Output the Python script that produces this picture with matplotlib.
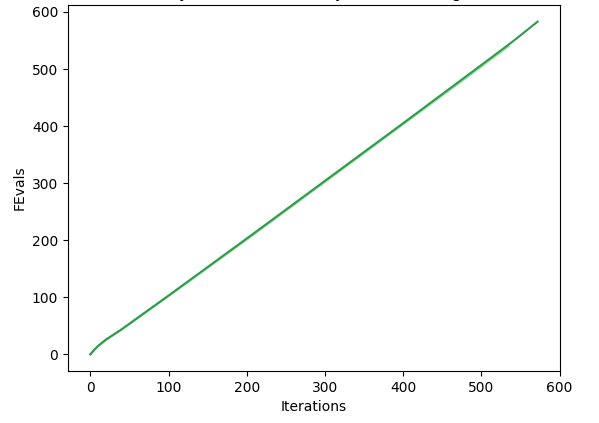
import numpy as np
import matplotlib.pyplot as plt

# run 1 (light green, shorter)
iters_a = [0, 5, 10, 20, 40, 100, 200, 300, 400, 500, 535]
fevals_a = [0, 8, 14, 25, 43, 102, 201, 302, 403, 504, 540]

# run 2 (dark green, longer)
iters_b = [0, 5, 10, 20, 40, 100, 200, 300, 400, 500, 540, 572]
fevals_b = [0, 8, 15, 26, 44, 103, 203, 304, 405, 507, 548, 583]

fig = plt.figure(figsize=(5.99, 4.23), dpi=100)
ax = fig.add_axes([68 / 599, 52 / 423, 492 / 599, 366 / 423])

ax.plot(iters_a, fevals_a, color="#98e0a0", lw=1.5)
ax.plot(iters_b, fevals_b, color="#2e9a4c", lw=1.5)

ax.set_xlabel("Iterations")
ax.set_ylabel("FEvals")
ax.set_title("FEvals by iteration for every run of the algorithm", pad=6)

fig.savefig("out.png", dpi=100)
